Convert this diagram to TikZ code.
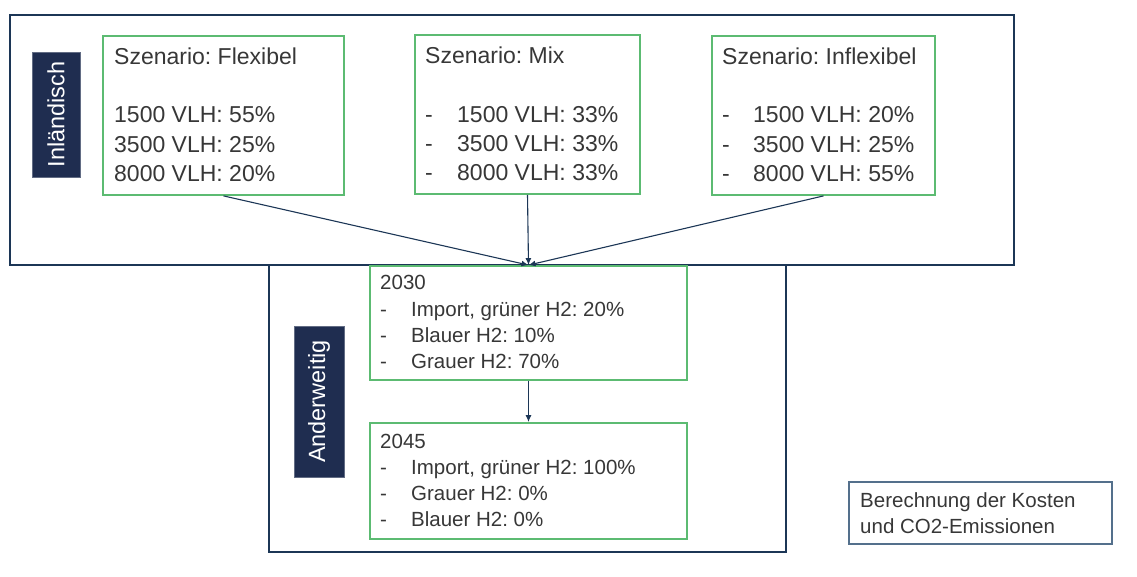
\documentclass[tikz,border=0pt]{standalone}
\usepackage{fontspec}
\setmainfont{Liberation Sans}
\frenchspacing
\usetikzlibrary{arrows.meta}
\definecolor{navy}{RGB}{28,54,86}
\definecolor{labelnavy}{RGB}{31,45,80}
\definecolor{boxgreen}{RGB}{92,187,114}
\definecolor{steel}{RGB}{84,112,140}
\definecolor{txtgray}{RGB}{55,55,55}
\tikzset{
  x=1pt, y=-1pt,
  outerbox/.style={draw=navy, line width=2.4pt, rectangle, inner sep=0pt},
  greenbox/.style={draw=boxgreen, line width=1.8pt, fill=white, rectangle, inner sep=0pt},
  resultbox/.style={draw=steel, line width=1.1pt, rectangle, inner sep=0pt},
  sidelabel/.style={fill=labelnavy, draw=labelnavy!70, line width=0.6pt, rectangle, inner sep=0pt},
  sidetext/.style={rotate=90, text=white, inner sep=0pt, font=\fontsize{23.5}{27}\selectfont},
  txt/.style={anchor=base west, inner sep=0pt, text=txtgray, font=\fontsize{23}{28}\selectfont},
  txts/.style={anchor=base west, inner sep=0pt, text=txtgray, font=\fontsize{20.5}{25}\selectfont},
  txtr/.style={anchor=base west, inner sep=0pt, text=txtgray, font=\fontsize{20.5}{25}\selectfont},
  arr/.style={draw=navy, line width=1.1pt, -{Latex[length=7pt,width=6pt]}}
}
\begin{document}
\begin{tikzpicture}
\useasboundingbox (0,0) rectangle (1137,577);

% outer frames
\node[outerbox, minimum width=1004pt, minimum height=250pt] (inland) at (512,140) {};
\node[outerbox, minimum width=517pt, minimum height=287pt] (other) at (527.5,408.5) {};

% side labels
\node[sidelabel, minimum width=48pt, minimum height=125pt] (lblIn) at (56,114.5) {};
\node[sidetext] (lblInT) at (lblIn.center) {Inländisch};
\node[sidelabel, minimum width=50pt, minimum height=151pt] (lblAnd) at (319,401.5) {};
\node[sidetext] (lblAndT) at (lblAnd.center) {Anderweitig};

% scenario boxes
\node[greenbox, minimum width=241pt, minimum height=159pt] (flex) at (223.5,115.5) {};
\node[greenbox, minimum width=225pt, minimum height=159pt] (mix) at (527.5,114.5) {};
\node[greenbox, minimum width=223pt, minimum height=159pt] (inflex) at (823.5,115.5) {};

\node[txt] (f0) at (114,65) {Szenario: Flexibel};
\node[txt] (f1) at (114,123) {1500 VLH: 55\%};
\node[txt] (f2) at (114,152.5) {3500 VLH: 25\%};
\node[txt] (f3) at (114,182) {8000 VLH: 20\%};

\node[txt] (m0) at (425,64) {Szenario: Mix};
\node[txt] (m1d) at (425,123) {-};
\node[txt] (m1) at (457,123) {1500 VLH: 33\%};
\node[txt] (m2d) at (425,152) {-};
\node[txt] (m2) at (457,152) {3500 VLH: 33\%};
\node[txt] (m3d) at (425,181) {-};
\node[txt] (m3) at (457,181) {8000 VLH: 33\%};

\node[txt] (i0) at (722,65) {Szenario: Inflexibel};
\node[txt] (i1d) at (722,123) {-};
\node[txt] (i1) at (753,123) {1500 VLH: 20\%};
\node[txt] (i2d) at (722,152.5) {-};
\node[txt] (i2) at (753,152.5) {3500 VLH: 25\%};
\node[txt] (i3d) at (722,182) {-};
\node[txt] (i3) at (753,182) {8000 VLH: 55\%};

% import boxes
\node[greenbox, minimum width=317pt, minimum height=114pt] (y2030) at (528.5,323) {};
\node[greenbox, minimum width=317pt, minimum height=116pt] (y2045) at (528.5,481) {};

\node[txts] (a0) at (380,290) {2030};
\node[txts] (a1d) at (380,316) {-};
\node[txts] (a1) at (411,316) {Import, grüner H2: 20\%};
\node[txts] (a2d) at (380,342) {-};
\node[txts] (a2) at (411,342) {Blauer H2: 10\%};
\node[txts] (a3d) at (380,368) {-};
\node[txts] (a3) at (411,368) {Grauer H2: 70\%};

\node[txts] (b0) at (380,448) {2045};
\node[txts] (b1d) at (380,474) {-};
\node[txts] (b1) at (411,474) {Import, grüner H2: 100\%};
\node[txts] (b2d) at (380,500) {-};
\node[txts] (b2) at (411,500) {Grauer H2: 0\%};
\node[txts] (b3d) at (380,526) {-};
\node[txts] (b3) at (411,526) {Blauer H2: 0\%};

% result box
\node[resultbox, minimum width=263pt, minimum height=62pt] (result) at (980.5,513) {};
\node[txtr] (r1) at (860,507) {Berechnung der Kosten};
\node[txtr] (r2) at (860,533) {und CO2-Emissionen};

% connectors
\draw[arr] (flex.south) -- (y2030.north);
\draw[arr] (mix.south) -- (y2030.north);
\draw[arr] (inflex.south) -- (y2030.north);
\draw[arr] (y2030.south) -- (y2045.north);
\end{tikzpicture}
\end{document}
